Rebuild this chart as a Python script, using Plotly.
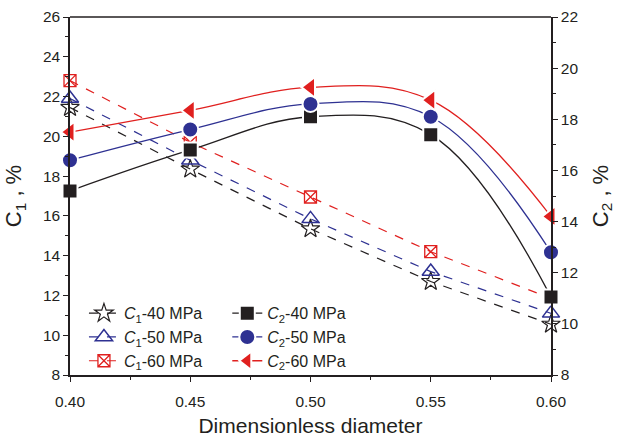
import plotly.graph_objects as go

x = [0.40, 0.45, 0.50, 0.55, 0.60]

c1_40 = [21.45, 18.35, 15.35, 12.7, 10.55]
c1_50 = [21.9, 18.8, 15.85, 13.2, 11.1]
c1_60 = [22.8, 19.7, 16.95, 14.2, 11.85]

c2_40 = [15.2, 16.8, 18.1, 17.4, 11.05]
c2_50 = [16.4, 17.6, 18.6, 18.1, 12.8]
c2_60 = [17.5, 18.35, 19.25, 18.75, 14.2]

BLACK = "#231F20"
BLUE = "#2E3192"
RED = "#E0201F"
FONT = "Liberation Sans, Arial, sans-serif"

fig = go.Figure()

def c1(n):
    return f"<i>C</i><sub>1</sub>-{n} MPa"

def c2(n):
    return f"<i>C</i><sub>2</sub>-{n} MPa"

# C1 traces (left axis, dashed)
fig.add_trace(go.Scatter(x=x, y=c1_40, name=c1(40), mode="lines+markers", cliponaxis=False,
    line=dict(color=BLACK, width=1.2, dash="dash"),
    marker=dict(symbol="star-open", size=14, color=BLACK, line=dict(width=1.2)),
    legend="legend"))
fig.add_trace(go.Scatter(x=x, y=c1_50, name=c1(50), mode="lines+markers", cliponaxis=False,
    line=dict(color=BLUE, width=1.2, dash="dash"),
    marker=dict(symbol="triangle-up-open", size=15, color=BLUE, line=dict(width=1.5)),
    legend="legend"))
fig.add_trace(go.Scatter(x=x, y=c1_60, name=c1(60), mode="lines+markers", cliponaxis=False,
    line=dict(color=RED, width=1.2, dash="dash"),
    marker=dict(symbol="square-x-open", size=12, color=RED, line=dict(width=1.3)),
    legend="legend"))

# C2 traces (right axis, solid spline)
fig.add_trace(go.Scatter(x=x, y=c2_40, name=c2(40), mode="lines+markers", yaxis="y2", cliponaxis=False,
    line=dict(color=BLACK, width=1.3, shape="spline", smoothing=1.1),
    marker=dict(symbol="square", size=15, color=BLACK, line=dict(color="white", width=2)),
    legend="legend2"))
fig.add_trace(go.Scatter(x=x, y=c2_50, name=c2(50), mode="lines+markers", yaxis="y2", cliponaxis=False,
    line=dict(color=BLUE, width=1.3, shape="spline", smoothing=1.1),
    marker=dict(symbol="circle", size=16, color=BLUE, line=dict(color="white", width=2)),
    legend="legend2"))
fig.add_trace(go.Scatter(x=x, y=c2_60, name=c2(60), mode="lines+markers", yaxis="y2", cliponaxis=False,
    line=dict(color=RED, width=1.3, shape="spline", smoothing=1.1),
    marker=dict(symbol="triangle-left", size=18, color=RED, line=dict(color="white", width=2)),
    legend="legend2"))

axis_common = dict(
    showline=True, linecolor=BLACK, linewidth=1.5,
    ticks="outside", ticklen=5, tickwidth=1.3, tickcolor=BLACK,
    showgrid=False, zeroline=False,
    tickfont=dict(family=FONT, size=15.5, color=BLACK),
)
minor_common = dict(ticks="outside", ticklen=3, tickwidth=1.2, tickcolor=BLACK)

fig.update_layout(
    width=620, height=437,
    margin=dict(l=70, r=69, t=17, b=62),
    paper_bgcolor="white", plot_bgcolor="white",
    font=dict(family=FONT, color=BLACK),
    xaxis=dict(range=[0.40, 0.60], tickvals=[0.40, 0.45, 0.50, 0.55, 0.60],
               ticktext=["0.40", "0.45", "0.50", "0.55", "0.60"],
               minor=dict(dtick=0.025, tick0=0.40, **minor_common),
               ticklabelstandoff=7, automargin=False,
               title=dict(text="Dimensionless diameter", font=dict(family=FONT, size=21, color=BLACK)),
               **axis_common),
    yaxis=dict(range=[8, 26], dtick=2, tick0=8, automargin=False,
               minor=dict(dtick=1, **minor_common),
               title=dict(text="C<sub>1</sub> , %", font=dict(family=FONT, size=22, color=BLACK)),
               **axis_common),
    yaxis2=dict(range=[8, 22], dtick=2, tick0=8, overlaying="y", side="right", automargin=False,
                minor=dict(dtick=1, **minor_common),
                title=dict(text="C<sub>2</sub> , %", font=dict(family=FONT, size=22, color=BLACK)),
                **axis_common),
    legend=dict(x=0.029, y=0.22, xanchor="left", yanchor="top", bgcolor="rgba(0,0,0,0)",
                font=dict(family=FONT, size=16, color=BLACK), tracegroupgap=0, itemwidth=30),
    legend2=dict(x=0.327, y=0.22, xanchor="left", yanchor="top", bgcolor="rgba(0,0,0,0)",
                 font=dict(family=FONT, size=16, color=BLACK), tracegroupgap=0, itemwidth=30),
    showlegend=True,
)

# top border line of the frame
fig.add_shape(type="line", xref="paper", yref="paper", x0=0, x1=1, y0=1, y1=1,
              line=dict(color=BLACK, width=1.5))

fig.write_html("out.html")
